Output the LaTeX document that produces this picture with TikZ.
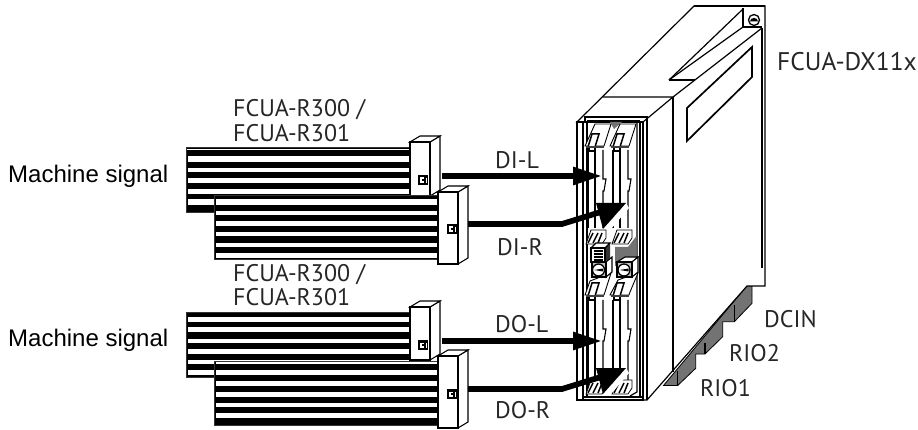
\documentclass[tikz,border=0pt]{standalone}
\usepackage{fontspec}
\setmainfont{PT Sans}
\newfontfamily\armfont{Liberation Sans}
\usetikzlibrary{arrows.meta}
\definecolor{midgrey}{gray}{0.45}
\tikzset{
  lbl/.style={inner sep=0pt,anchor=west,font=\fontsize{24}{24}\selectfont,text=black!85},
  mach/.style={inner sep=0pt,anchor=west,font=\armfont\fontsize{24}{24}\selectfont},
  ln/.style={draw=black,line width=1.2pt,line join=miter},
  thinln/.style={draw=black,line width=1.1pt},
  boxf/.style={draw=black,fill=white,line width=1.1pt},
  flow/.style={line width=5.7pt,draw=black},
  straighthead/.style={-{Triangle[length=29pt,width=17pt,fill=black]}},
  blackbar/.style={fill=black,draw=black!80,line width=1pt},
  whitebar/.style={fill=white,draw=none},
}
\newcommand{\ribbon}[5]{%
  \path[blackbar] (#1,#2) rectangle (#3,#4);
  \foreach \a/\b in {#5} {\fill[whitebar] (#1+1.5,\a) rectangle (#3,\b);}
}
\newcommand{\plug}[3]{%
  \path[boxf] (#1+20,#2) -- (#1+30,#2-6) -- (#1+30,#3-6) -- (#1+20,#3) -- cycle;
  \path[boxf] (#1,#2) -- (#1+10,#2-6) -- (#1+30,#2-6) -- (#1+20,#2) -- cycle;
  \path[boxf] (#1,#2) rectangle (#1+20,#3);
}
\newcommand{\plugicon}[2]{%
  \fill[black] (#1-5.5,#2-5) rectangle (#1+5,#2+5);
  \fill[white] (#1-3.5,#2-2.5) rectangle (#1+1,#2+3);
  \fill[white] (#1+2.5,#2-2) rectangle (#1+3.8,#2+3);
  \fill[black] (#1-1,#2-1) rectangle (#1+0.5,#2+1);
}
\newcommand{\latch}[6]{%
  \path[boxf,line width=0.9pt] (#1+#3,#2+#4) -- (#1+#5,#2+#6) -- (#1+20,#2-3) -- (#1+19,#2) -- (#1,#2) -- cycle;
  \path[boxf,line width=1.5pt] (#1+3,#2+1) -- (#1+7,#2-12) -- (#1+14,#2-12) -- (#1+10,#2+1);
  \fill[black!75] (#1+1,#2) rectangle (#1+19,#2+2);
  \draw[thinln] (#1+4,#2+2) -- (#1+4,#2+5) -- (#1+10,#2+5) -- (#1+10,#2+2);
}
\newcommand{\lowlatch}[2]{%
  \path[boxf,line width=0.8pt] (#1,#2+8) -- (#1+5,#2-6) -- (#1+20,#2-6) -- (#1+20,#2+2) -- (#1+16,#2+8) -- cycle;
  \draw[line width=1.5pt] (#1+2,#2+7) -- (#1+7,#2-3) (#1+7,#2+7) -- (#1+12,#2-3) (#1+12,#2+7) -- (#1+16,#2-3);
}
\newcommand{\slotbody}[3]{%
  \draw[thinln] (#1,#2) -- (#1,#3) (#1+7,#2) -- (#1+7,#3) ;
  \draw[thinln] (#1+15,#2) -- (#1+15,#2+29) -- (#1+18,#2+29) -- (#1+16,#2+41) -- (#1+15,#2+41) -- (#1+15,#3);
}
\begin{document}
\begin{tikzpicture}[x=1pt,y=-1pt]
\useasboundingbox (0,0) rectangle (918,430);
% ---- ribbons and plugs, upper
\ribbon{186}{148}{412}{213}{156/162,168/172.3,178.3/183.3,189/194,199.3/205}
\fill[white] (187,149) rectangle (412,149.7);
\plug{410}{142}{196}
\plugicon{423}{180}
\ribbon{214}{196}{439}{260}{199/205,210.7/215,220.7/226,231.7/236,242.7/246.7,253.3/258.3}
\plug{438}{192}{264}
\plugicon{452}{229}
% ---- lower
\ribbon{186}{312}{412}{377}{317.3/322,327.3/332.3,339/343.3,349.3/354,360/364,370/375}
\plug{410}{307}{360}
\plugicon{423}{345}
\ribbon{214}{361}{439}{425}{362/364,370/375,381/386,392/396.7,403/407,413/417.5}
\plug{438}{356}{428}
\plugicon{452}{394}
% ---- module
\path[fill=midgrey,draw=black,line width=0.8pt]
 (663.5,385.5) -- (677.7,385.5) -- (695.7,368.3) -- (695.7,354) -- (705,354) -- (722.7,336.7) -- (722.7,321.7) -- (734.3,321.7) -- (752,303.3) -- (752,285.7) -- (747,285.7) -- cycle;
\draw[thinln] (677.7,371) -- (677.7,385.5) (705,343) -- (705,354) (734.3,305) -- (734.3,321.7);
% top and side faces
\path[fill=white,ln] (577,122) -- (694,6) -- (765,6) -- (765,286) -- (747,286) -- (647,400) -- (643,400) -- (643,122) -- cycle;
\draw[ln] (603,97) -- (673,97) -- (643,122);
\draw[ln] (673,97) -- (673,372);
\draw[ln] (762,28) -- (762,268);
\draw[line width=1.6pt] (694,6) -- (765,6);
\draw[ln] (673,97) -- (762,28);
\draw[ln] (669,80) -- (695,80);
\draw[ln] (669,80) -- (743,9);
\draw[ln] (669,80) -- (743,27);
\draw[ln] (743,8) -- (743,27) -- (762,27);
\draw[line width=1.3pt,fill=white] (754,20) circle (5.5);
\fill[black] (750,21.5) arc (180:360:4 and 3.6) -- cycle;
\path[draw=black,fill=white,line width=1.7pt] (687,108) -- (752,47) -- (752,77) -- (687,141) -- cycle;
% front face
\path[fill=white,ln] (577,122) rectangle (643,400);
\draw[ln] (583,122) -- (583,400);
\draw[ln] (585,122) -- (585,117) -- (648,117);
\draw[ln] (583,397) -- (643,397);
\draw[ln] (637,122) -- (637,392) -- (630,396);
\draw[ln] (640,122) -- (640,397);
\draw[ln] (647,118) -- (647,400);
\draw[ln] (587,121) -- (640,121);
\draw[ln] (587,121) -- (587,397);
% dark central area
\fill[midgrey] (615,247) -- (628,247) -- (636.5,236) -- (636.5,262) -- (617,266) -- (615,266) -- cycle;
\fill[midgrey] (610,122) -- (622,122) -- (614,129) -- cycle;
% slots
\slotbody{588}{150}{228}
\slotbody{613}{150}{228}
\latch{585}{146}{10}{-22}{26}{-22}
\latch{610}{146}{10}{-22}{26}{-22}
\slotbody{588}{300}{388}
\slotbody{613}{300}{388}
\latch{585}{295}{5}{-14}{26}{-22}
\latch{610}{295}{8}{-15}{28}{-22}
\lowlatch{586}{236}
\lowlatch{612}{236}
\lowlatch{586}{386}
\lowlatch{612}{386}
% switch block
\fill[black!80] (605,248) -- (610,243) -- (610,258) -- (605,262) -- cycle;
\path[boxf] (591,248) -- (596,243) -- (610,243) -- (605,248) -- cycle;
\path[boxf] (591,248) rectangle (605,262);
\draw[line width=1.2pt] (594,251) -- (603,251) (594,254) -- (603,254) (594,257) -- (603,257) (594,260) -- (603,260);
\path[boxf] (606,262) -- (612,257) -- (612,272) -- (606,277) -- cycle;
\path[boxf,fill=black!25] (592,262) rectangle (606,277);
\path[boxf] (617,262) -- (625,257) -- (638,257) -- (632,262) -- cycle;
\path[boxf] (632,262) -- (638,257) -- (638,272) -- (632,277) -- cycle;
\path[boxf,fill=black!25] (617,262) rectangle (632,277);
\draw[boxf,line width=1.3pt] (598.5,270) circle (6);
\draw[boxf,line width=1.3pt] (624,270) circle (6);
\fill[black] (594,270) -- (603,268.5) -- (603,271.5) -- cycle;
\fill[black] (619.5,270) -- (628.5,268.5) -- (628.5,271.5) -- cycle;
% ---- connectors
\coordinate (dil0) at (442,176); \coordinate (dil1) at (602,176);
\coordinate (dir0) at (468,224); \coordinate (dir1) at (562,224); \coordinate (dir2) at (604,211);
\coordinate (dol0) at (442,341); \coordinate (dol1) at (602,341);
\coordinate (dor0) at (468,389); \coordinate (dor1) at (562,389); \coordinate (dor2) at (604,376);
\fill[white] (626,368) -- (603,394) -- (611,394) -- (629,373) -- cycle;
\fill[white] (626,203) -- (603,229) -- (611,229) -- (629,208) -- cycle;
\draw[flow,straighthead] (dil0) -- (dil1);
\draw[flow,straighthead] (dol0) -- (dol1);
\draw[flow,line join=miter] (dir0) -- (dir1) -- (dir2);
\draw[flow,line join=miter] (dor0) -- (dor1) -- (dor2);
\fill[black] (596,203) -- (626,203) -- (603,229) -- cycle;
\fill[black] (596,368) -- (626,368) -- (603,394) -- cycle;
% ---- labels
\node[mach] (ms1) at (8,176) {Machine signal};
\node[mach] (ms2) at (8,340) {Machine signal};
\node[lbl] (r1a) at (233,110) {FCUA-R300 /};
\node[lbl] (r1b) at (233,133) {FCUA-R301};
\node[lbl] (r2a) at (233,275) {FCUA-R300 /};
\node[lbl] (r2b) at (233,297) {FCUA-R301};
\node[lbl] (dil) at (495,160) {DI-L};
\node[lbl] (dir) at (497,247) {DI-R};
\node[lbl] (dol) at (495,324) {DO-L};
\node[lbl] (dor) at (495,410) {DO-R};
\node[lbl,font=\fontsize{25.5}{25.5}\selectfont] (dx) at (777,62) {FCUA-DX11x};
\node[lbl] (dc) at (764,319) {DCIN};
\node[lbl] (r2) at (729,353) {RIO2};
\node[lbl] (r1) at (700,388) {RIO1};
\end{tikzpicture}
\end{document}
